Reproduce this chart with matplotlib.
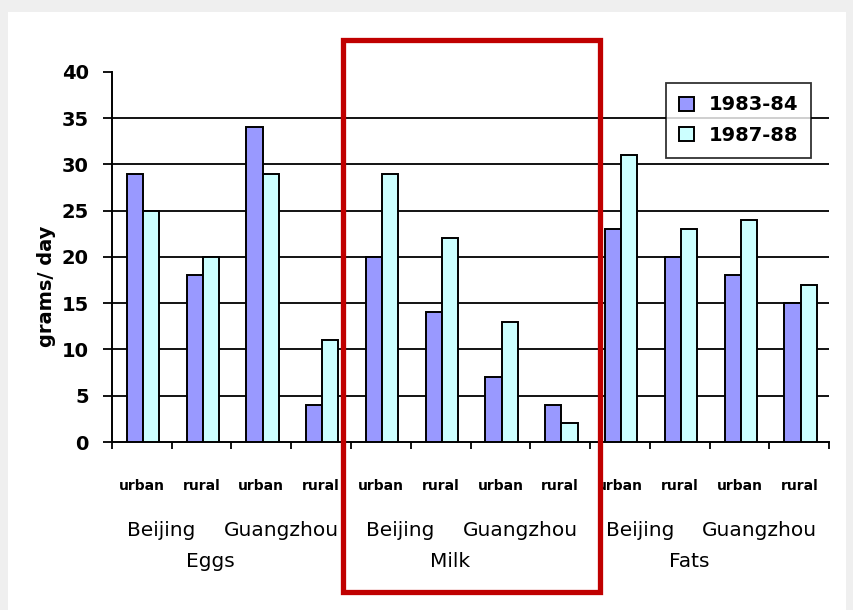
import matplotlib.pyplot as plt
import matplotlib.patches as patches
import numpy as np

# data
foods = ["Eggs", "Milk", "Fats"]
cities = ["Beijing", "Guangzhou"]
areas = ["urban", "rural"]
series = ["1983-84", "1987-88"]
vals_8384 = [29, 18, 34, 4, 20, 14, 7, 4, 23, 20, 18, 15]
vals_8788 = [25, 20, 29, 11, 29, 22, 13, 2, 31, 23, 24, 17]

fig = plt.figure(figsize=(8.54, 6.10), dpi=100, facecolor="#efefef")
# white page area inside the light grey border
fig.patches.append(patches.Rectangle((0.009, 0.0), 0.982, 0.98, transform=fig.transFigure,
                                     facecolor="white", edgecolor="none", zorder=-5))

ax = fig.add_axes([0.131, 0.2754, 0.84, 0.607])
ax.set_facecolor("none")

n = len(vals_8384)
x = np.arange(n) + 0.5
w = 0.27
ax.bar(x - w / 2 + 0.02, vals_8384, width=w, color="#9999ff", edgecolor="black", linewidth=1.4,
       label=series[0], zorder=3)
ax.bar(x + w / 2 + 0.02, vals_8788, width=w, color="#ccffff", edgecolor="black", linewidth=1.4,
       label=series[1], zorder=3)

ax.set_xlim(0, n)
ax.set_ylim(0, 40)
ax.set_yticks(range(0, 41, 5))
for yv in range(5, 40, 5):
    ax.axhline(yv, color="black", linewidth=1.3, zorder=1)

ax.set_xticks(np.arange(n + 1))
ax.set_xticklabels([])
ax.tick_params(axis="x", direction="out", length=5, width=1.3)
ax.tick_params(axis="y", direction="out", length=6.5, width=1.3, pad=10)
for lab in ax.get_yticklabels():
    lab.set_fontweight("bold")
    lab.set_fontsize(14)

for side in ["top", "right"]:
    ax.spines[side].set_visible(False)
for side in ["left", "bottom"]:
    ax.spines[side].set_linewidth(1.4)

ax.set_ylabel("grams/ day", fontsize=14, fontweight="bold")
ax.yaxis.set_label_coords(-0.078, 0.42)

# three-level category labels
tr = ax.get_xaxis_transform()
for i in range(n):
    ax.text(x[i], -0.119, areas[i % 2], transform=tr, ha="center", va="center",
            fontsize=10, fontweight="bold")
for j in range(len(foods) * len(cities)):
    ax.text(2 * j + 1 - 0.17, -0.238, cities[j % 2], transform=tr, ha="center", va="center",
            fontsize=14.5)
for k, food in enumerate(foods):
    ax.text(4 * k + 2 - 0.35, -0.324, food, transform=tr, ha="center", va="center",
            fontsize=14.5)

leg = ax.legend(loc="upper right", bbox_to_anchor=(0.975, 0.970), borderaxespad=0,
                frameon=True, fancybox=False, edgecolor="black",
                prop={"weight": "bold", "size": 14},
                handlelength=0.75, handleheight=0.75, handletextpad=0.8, borderpad=0.65,
                labelspacing=0.6)
leg.get_frame().set_linewidth(1.3)
leg.set_zorder(5)

# red highlight box around the Milk group
fig.patches.append(patches.Rectangle((0.4016, 0.0295), 0.301, 0.9045, transform=fig.transFigure,
                                     fill=False, edgecolor="#c00000", linewidth=3.8, zorder=10))

fig.savefig("out.png", dpi=100, facecolor=fig.get_facecolor())
